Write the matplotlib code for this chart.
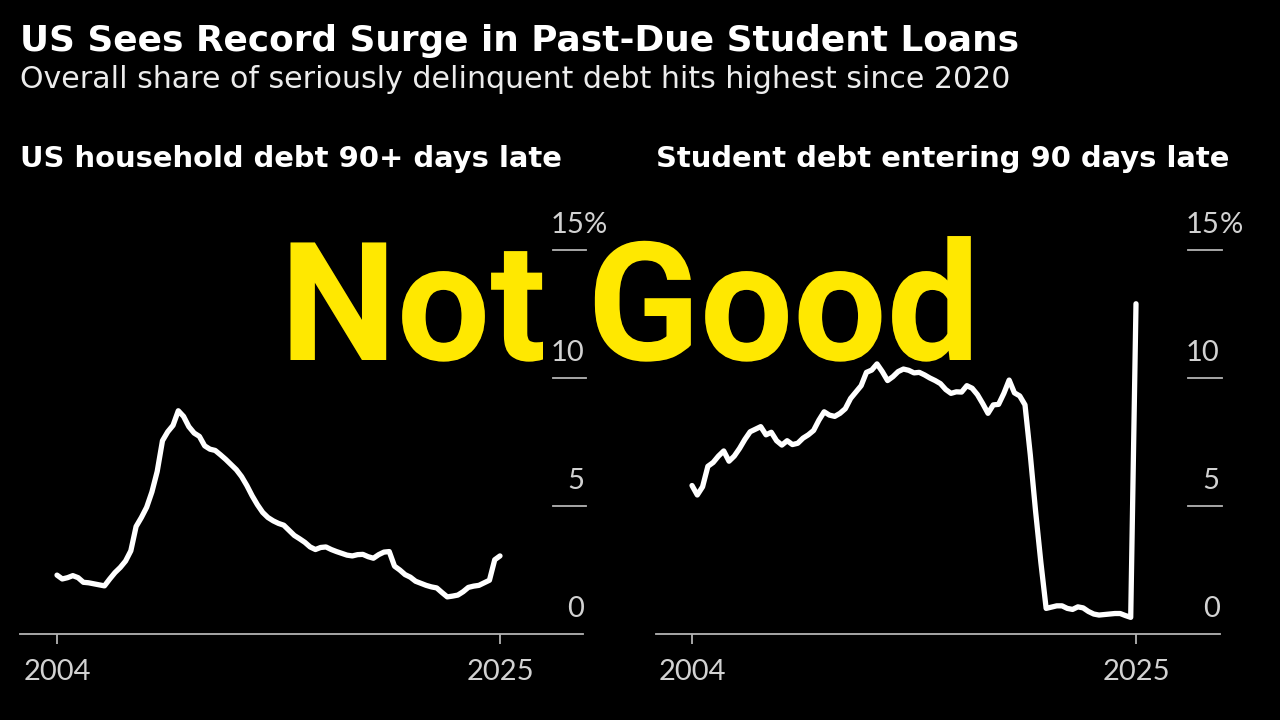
import numpy as np
import matplotlib
matplotlib.use('Agg')
import matplotlib.pyplot as plt
import matplotlib.transforms as mtransforms
import matplotlib.patheffects as pe

# quarterly, 2004 Q1 .. 2025 Q1
quarters = np.arange(2004, 2025.001, 0.25)

# share of US household debt 90+ days late (%)
household_late = [
    2.30, 2.15, 2.20, 2.28,
    2.20, 2.02, 2.00, 1.96,
    1.92, 1.88, 2.15, 2.40,
    2.60, 2.85, 3.25, 4.20,
    4.55, 4.95, 5.55, 6.35,
    7.55, 7.90, 8.15, 8.72,
    8.50, 8.10, 7.85, 7.72,
    7.35, 7.22, 7.17, 7.00,
    6.82, 6.62, 6.42, 6.15,
    5.80, 5.40, 5.05, 4.75,
    4.55, 4.42, 4.32, 4.25,
    4.05, 3.85, 3.72, 3.58,
    3.40, 3.30, 3.38, 3.40,
    3.30, 3.22, 3.15, 3.08,
    3.05, 3.10, 3.11, 3.02,
    2.96, 3.10, 3.20, 3.22,
    2.65, 2.50, 2.32, 2.22,
    2.06, 1.98, 1.90, 1.84,
    1.80, 1.62, 1.45, 1.48,
    1.52, 1.65, 1.82, 1.87,
    1.90, 2.00, 2.10, 2.90,
    3.05,
]

# student debt entering 90 days late (%)
student_late = [
    5.80, 5.43, 5.75, 6.55,
    6.70, 6.95, 7.15, 6.75,
    6.95, 7.25, 7.60, 7.90,
    8.00, 8.10, 7.78, 7.88,
    7.55, 7.38, 7.55, 7.40,
    7.45, 7.65, 7.78, 7.95,
    8.35, 8.68, 8.55, 8.50,
    8.62, 8.80, 9.20, 9.45,
    9.70, 10.22, 10.31, 10.55,
    10.25, 9.90, 10.05, 10.25,
    10.35, 10.30, 10.20, 10.22,
    10.12, 10.00, 9.90, 9.78,
    9.55, 9.40, 9.46, 9.45,
    9.70, 9.60, 9.35, 9.00,
    8.62, 8.95, 8.97, 9.40,
    9.92, 9.42, 9.30, 8.95,
    7.00, 4.80, 2.80, 1.00,
    1.05, 1.10, 1.10, 1.00,
    0.96, 1.06, 1.02, 0.88,
    0.78, 0.74, 0.76, 0.78,
    0.80, 0.80, 0.72, 0.65,
    12.90,
]

year_ticks = [2004, 2025]
pct_ticks = [0, 5, 10, 15]

BG = '#000000'
LINE = '#ffffff'
GRID = '#b4b4b4'
LABEL = '#d2d2d2'
YELLOW = '#ffe800'
NARROW = ['Liberation Sans Narrow', 'Lato', 'DejaVu Sans']
BOLD = ['DejaVu Sans']

W, H = 1280, 720
fig = plt.figure(figsize=(W / 100, H / 100), dpi=100, facecolor=BG)


def panel(left_px, right_px, xlim, values, title, lab_x, tick_x0, tick_x1):
    ax = fig.add_axes([left_px / W, (H - 634) / H, (right_px - left_px) / W, (634 - 250) / H])
    ax.set_facecolor(BG)
    ax.plot(quarters, values, color=LINE, lw=3.8, solid_joinstyle='round',
            solid_capstyle='round', clip_on=False, zorder=3)
    ax.set_xlim(*xlim)
    ax.set_ylim(0, 15)
    for s in ['top', 'right', 'left']:
        ax.spines[s].set_visible(False)
    ax.spines['bottom'].set_color(GRID)
    ax.spines['bottom'].set_linewidth(1.3)
    ax.set_yticks([])
    ax.set_xticks(year_ticks)
    ax.set_xticklabels([str(y) for y in year_ticks], fontfamily=NARROW,
                       fontsize=21, color=LABEL)
    ax.tick_params(axis='x', length=7, width=1.3, color=GRID, pad=11)

    # short rules + labels sitting above each value, numbers flush right
    trans = ax.get_yaxis_transform()
    lab_trans = mtransforms.offset_copy(trans, fig=fig, x=0, y=17, units='dots')
    for v in pct_ticks:
        if v > 0:
            ax.plot([tick_x0, tick_x1], [v, v], transform=trans, color=GRID,
                    lw=1.3, clip_on=False)
        ax.text(lab_x, v, str(v), transform=lab_trans, ha='right', va='baseline',
                fontfamily=NARROW, fontsize=21, color=LABEL)
        if v == pct_ticks[-1]:
            ax.text(lab_x, v, '%', transform=lab_trans, ha='left', va='baseline',
                    fontfamily=NARROW, fontsize=21, color=LABEL)

    fig.text(left_px / W, (H - 167) / H, title, ha='left', va='baseline',
             fontfamily=BOLD, fontweight='bold', fontsize=20.9, color='#ffffff')
    return ax


panel(20, 583, (2002.246, 2028.935), household_late,
      'US household debt 90+ days late', 1.0018, 0.9467, 1.0047)
panel(656, 1220, (2002.297, 2028.973), student_late,
      'Student debt entering 90 days late', 0.9995, 0.943, 1.003)

fig.text(20 / W, (H - 51) / H, 'US Sees Record Surge in Past-Due Student Loans',
         ha='left', va='baseline', fontfamily=BOLD, fontweight='bold',
         fontsize=25.8, color='#ffffff')
fig.text(20 / W, (H - 88) / H,
         'Overall share of seriously delinquent debt hits highest since 2020',
         ha='left', va='baseline', fontfamily=['DejaVu Sans'],
         fontsize=21.6, color='#ececec')

fig.text(630 / W, (H - 360) / H, 'Not Good', ha='center', va='baseline',
         fontfamily=['Roboto', 'DejaVu Sans'], fontweight='bold', fontsize=119,
         color=YELLOW, zorder=10,
         path_effects=[pe.withStroke(linewidth=5, foreground='#000000', alpha=0.6)])

fig.savefig('out.png', dpi=100, facecolor=BG)
